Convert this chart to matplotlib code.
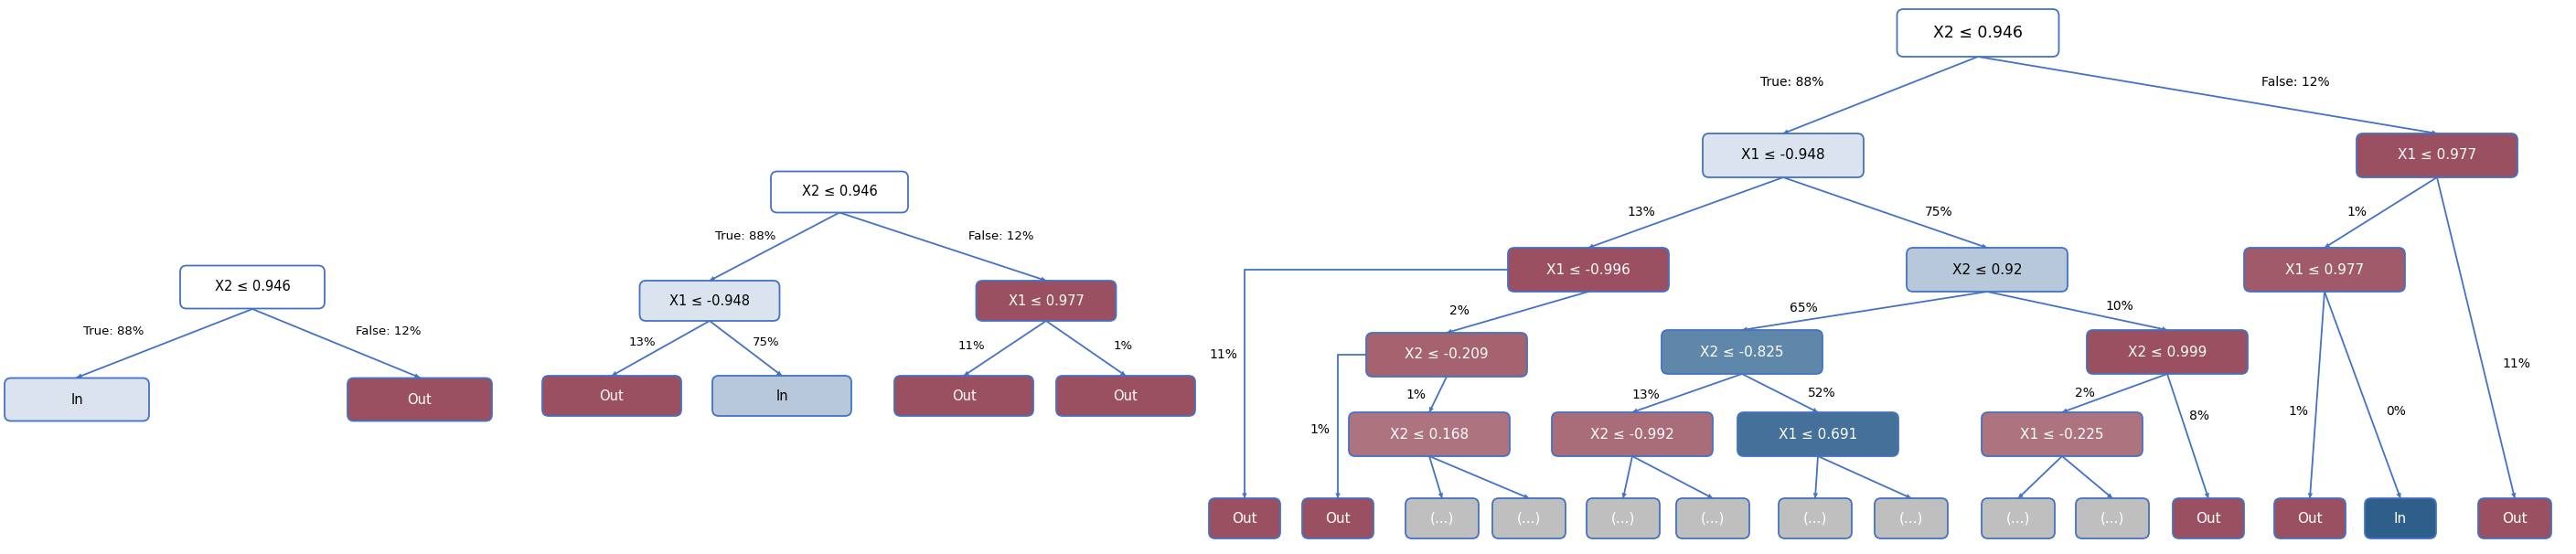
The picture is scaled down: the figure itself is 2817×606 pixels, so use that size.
import matplotlib
matplotlib.use("Agg")
import matplotlib.pyplot as plt
from matplotlib.patches import FancyBboxPatch

# ---- data: node texts and edge percentages ----
t1_nodes = ["X2 ≤ 0.946", "In", "Out"]
t1_pcts = ["True: 88%", "False: 12%"]
t2_nodes = ["X2 ≤ 0.946", "X1 ≤ -0.948", "X1 ≤ 0.977", "Out", "In", "Out", "Out"]
t2_pcts = ["True: 88%", "False: 12%", "13%", "75%", "11%", "1%"]
t3_nodes = ["X2 ≤ 0.946", "X1 ≤ -0.948", "X1 ≤ 0.977", "X1 ≤ -0.996", "X2 ≤ 0.92",
            "X1 ≤ 0.977", "X2 ≤ -0.209", "X2 ≤ -0.825", "X2 ≤ 0.999", "X2 ≤ 0.168",
            "X2 ≤ -0.992", "X1 ≤ 0.691", "X1 ≤ -0.225",
            "Out", "Out", "(...)", "(...)", "(...)", "(...)", "(...)", "(...)", "(...)", "(...)",
            "Out", "Out", "In", "Out"]
t3_pcts = ["True: 88%", "False: 12%", "13%", "75%", "1%", "11%", "2%", "11%", "65%", "10%",
           "1%", "1%", "13%", "52%", "2%", "8%", "1%", "0%"]

# ---- layout / style ----
EDGE = "#4472c4"
DR, MR, LR, R2, R3 = "#9b5061", "#a4636f", "#ad7480", "#a96d79", "#a15a6a"
B1, B2, B3, B4, B5, GR, W = "#dae3ee", "#b7c8da", "#5f87aa", "#44709a", "#2e5f8a", "#bfbfbf", "#ffffff"

fig = plt.figure(figsize=(28.17, 6.06), dpi=100)
ax = fig.add_axes([0, 0, 1, 1])
ax.set_xlim(0, 2817); ax.set_ylim(606, 0); ax.axis("off")

def box(cx, cy, w, h, text, fc, fs=10.5, tc=None):
    if tc is None:
        tc = "black" if fc in (W, B1, B2) else "white"
    ax.add_patch(FancyBboxPatch((cx - w/2, cy - h/2), w, h,
                 boxstyle="round,pad=0,rounding_size=7", fc=fc, ec=EDGE, lw=1.3, zorder=3))
    ax.text(cx, cy, text, ha="center", va="center", fontsize=fs, color=tc, zorder=4)

def arrow(pts, lw=1.3):
    xs = [p[0] for p in pts]; ys = [p[1] for p in pts]
    ax.plot(xs[:-1] + [xs[-1]], ys, color=EDGE, lw=lw, zorder=2)
    ax.annotate("", xy=pts[-1], xytext=pts[-2],
                arrowprops=dict(arrowstyle="-|>", color=EDGE, lw=0, mutation_scale=10,
                                shrinkA=0, shrinkB=0), zorder=2)

def lab(x, y, s, fs=9.5):
    ax.text(x, y, s, ha="center", va="center", fontsize=fs)

# ---- tree 1 ----
p1 = [(276, 314, 158, 47), (84, 437, 158, 47), (459, 437, 158, 47)]
c1 = [W, B1, DR]
arrow([(276, 338), (84, 413)]); arrow([(276, 338), (459, 413)])
for (x, y, w, h), t, c in zip(p1, t1_nodes, c1):
    box(x, y, w, h, t, c)
for (x, y), s in zip([(124, 362), (425, 362)], t1_pcts):
    lab(x, y, s)

# ---- tree 2 ----
p2 = [(918, 210, 150, 45), (776, 329, 153, 44), (1144, 329, 153, 44),
      (669, 433, 152, 44), (855, 433, 152, 44), (1054, 433, 152, 44), (1231, 433, 152, 44)]
c2 = [W, B1, DR, DR, B2, DR, DR]
e2 = [(0, 1), (0, 2), (1, 3), (1, 4), (2, 5), (2, 6)]
for a, b in e2:
    arrow([(p2[a][0], p2[a][1] + p2[a][3]/2), (p2[b][0], p2[b][1] - p2[b][3]/2)])
for (x, y, w, h), t, c in zip(p2, t2_nodes, c2):
    box(x, y, w, h, t, c)
for (x, y), s in zip([(815, 258), (1095, 258), (702, 374), (838, 374), (1062, 378), (1228, 378)], t2_pcts):
    lab(x, y, s)

# ---- tree 3 ----
iw, ih = 176, 48
leafx = [1361, 1463, 1577, 1672, 1775, 1873, 1985, 2090, 2207, 2310, 2415, 2526, 2625, 2750]
p3 = [(2163, 36, 177, 52), (1950, 170, iw, ih), (2665, 170, iw, ih),
      (1737, 295, iw, ih), (2173, 295, iw, ih), (2542, 295, iw, ih),
      (1582, 388, iw, ih), (1905, 385, iw, ih), (2370, 385, iw, ih),
      (1563, 475, iw, ih), (1785, 475, iw, ih), (1988, 475, iw, ih), (2255, 475, iw, ih)]
p3 += [(x, 567, 78 if i in (0, 1, 10, 11, 12) else 80, 44) for i, x in enumerate(leafx)]
c3 = [W, B1, DR, DR, B2, R3, MR, B3, DR, LR, R2, B4, LR,
      DR, DR, GR, GR, GR, GR, GR, GR, GR, GR, DR, DR, B5, DR]
e3 = [(0, 1), (0, 2), (1, 3), (1, 4), (2, 5), (2, 26), (3, 6), (4, 7), (4, 8),
      (6, 9), (7, 10), (7, 11), (8, 12), (8, 23), (5, 24), (5, 25),
      (9, 15), (9, 16), (10, 17), (10, 18), (11, 19), (11, 20), (12, 21), (12, 22)]
for a, b in e3:
    arrow([(p3[a][0], p3[a][1] + p3[a][3]/2), (p3[b][0], p3[b][1] - p3[b][3]/2)])
# elbow edges from left side
arrow([(p3[3][0] - iw/2, p3[3][1]), (leafx[0], p3[3][1]), (leafx[0], 545)])
arrow([(p3[6][0] - iw/2, p3[6][1]), (leafx[1], p3[6][1]), (leafx[1], 545)])
for i, ((x, y, w, h), t, c) in enumerate(zip(p3, t3_nodes, c3)):
    box(x, y, w, h, t, c, fs=12.5 if i == 0 else 11)
lp3 = [(1960, 90), (2510, 90), (1795, 232), (2120, 232), (2577, 232), (2752, 398),
       (1596, 340), (1338, 388), (1972, 337), (2318, 335), (1548, 432), (1443, 470),
       (1800, 432), (1992, 430), (2280, 430), (2405, 455), (2513, 450), (2620, 450)]
for (x, y), s in zip(lp3, t3_pcts):
    lab(x, y, s, fs=10)

fig.savefig("out.png", dpi=100)
